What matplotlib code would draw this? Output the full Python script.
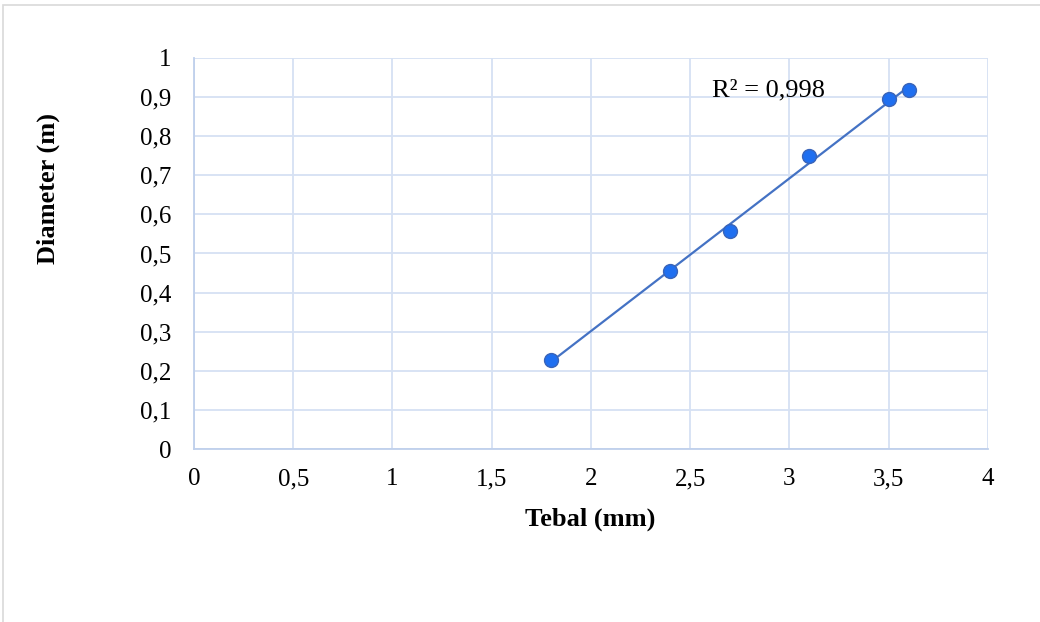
import numpy as np
import matplotlib.pyplot as plt
from matplotlib.patches import Rectangle

tebal = [1.8, 2.4, 2.7, 3.1, 3.5, 3.6]
diameter = [0.228, 0.456, 0.558, 0.749, 0.894, 0.917]
x_ticks = [0, 0.5, 1, 1.5, 2, 2.5, 3, 3.5, 4]
y_ticks = [0, 0.1, 0.2, 0.3, 0.4, 0.5, 0.6, 0.7, 0.8, 0.9, 1]

plt.rcParams['font.family'] = ['Liberation Serif', 'DejaVu Serif']

fig = plt.figure(figsize=(10.4, 6.22), dpi=100)
ax = fig.add_axes([0.1865, 0.2781, 0.7635, 0.6287])

grid_col = '#d6e1f3'
ax.set_xlim(0, 4)
ax.set_ylim(0, 1)
ax.set_xticks(x_ticks)
ax.set_yticks(y_ticks)
fmt = lambda v: ('%g' % v).replace('.', ',')
ax.set_xticklabels([fmt(v) for v in x_ticks], fontsize=18)
ax.set_yticklabels([fmt(v) for v in y_ticks], fontsize=18)
ax.tick_params(length=0)
ax.tick_params(axis='y', pad=16)
ax.tick_params(axis='x', pad=14)
ax.grid(True, color=grid_col, linewidth=1.3)
ax.set_axisbelow(True)
for s in ['top', 'right']:
    ax.spines[s].set_visible(False)
for s in ['left', 'bottom']:
    ax.spines[s].set_color('#bfd0ec')
    ax.spines[s].set_linewidth(1.3)

# trendline
k, b = np.polyfit(tebal, diameter, 1)
xs = np.array([min(tebal), max(tebal)])
ax.plot(xs, k * xs + b, color='#4472c4', linewidth=1.6, zorder=2)

ax.scatter(tebal, diameter, s=100, color='#1f6ff0', edgecolor='#3a64b8',
           linewidth=1.0, zorder=3)

ax.text(2.61, 0.918, 'R² = 0,998', fontsize=19, va='center', ha='left')

fig.text(590 / 1040, 1 - 519 / 622, 'Tebal (mm)', fontsize=19,
         fontweight='bold', ha='center', va='center')
fig.text(48 / 1040, 1 - 188 / 622, 'Diameter (m)', fontsize=19,
         fontweight='bold', ha='center', va='center', rotation=90)

# chart frame
fig.patches.append(Rectangle((3 / 1040, -0.1), 1.2, 1.1 - 5 / 622,
                             transform=fig.transFigure, fill=False,
                             edgecolor='#d9d9d9', linewidth=1.2))

fig.savefig('out.png', dpi=100)
